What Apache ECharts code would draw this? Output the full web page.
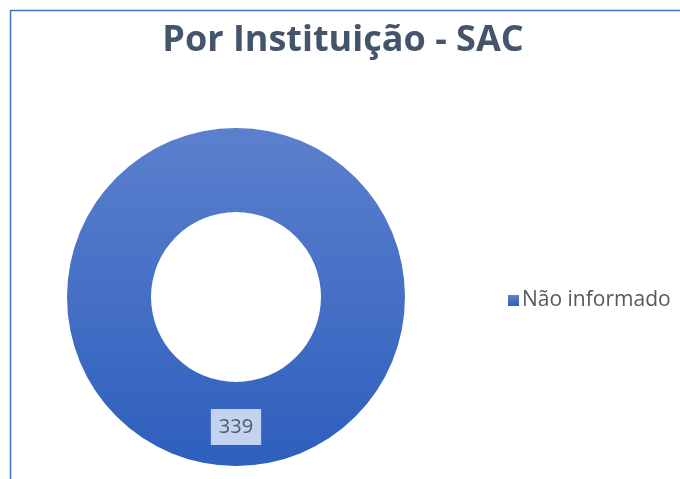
<!DOCTYPE html>
<html>
<head>
<meta charset="utf-8">
<script src="https://cdn.jsdelivr.net/npm/echarts@6/dist/echarts.min.js"></script>
<style>
	html, body { margin: 0; padding: 0; background: #ffffff; }
	#chart { width: 680px; height: 479px; }
</style>
</head>
<body>
<div id="chart"></div>
<script>
// Chart data
const categories = ['Não informado'];
const values = [339];

const chart = echarts.init(document.getElementById('chart'));

const pieData = categories.map((name, i) => ({ name: name, value: values[i] }));

const option = {
	backgroundColor: '#ffffff',
	animation: false,
	title: {
		text: 'Por Instituição - SAC',
		left: 338,
		top: 18,
		textAlign: 'center',
		textStyle: {
			color: '#44546a',
			fontFamily: 'Open Sans',
			fontSize: 36,
			fontWeight: 'bold'
		}
	},
	// chart area frame (top and left edges visible)
	graphic: [
		{ type: 'line', shape: { x1: 10, y1: 10.5, x2: 680, y2: 10.5 }, style: { stroke: '#4472c4', lineWidth: 1.5 } },
		{ type: 'line', shape: { x1: 10.5, y1: 10, x2: 10.5, y2: 479 }, style: { stroke: '#4472c4', lineWidth: 1.5 } }
	],
	legend: {
		orient: 'vertical',
		left: 503,
		top: 285,
		icon: 'rect',
		itemWidth: 11,
		itemHeight: 11,
		itemGap: 6,
		data: categories,
		textStyle: {
			color: '#595959',
			fontFamily: 'Open Sans',
			fontSize: 21,
			padding: [0, 0, 0, -2]
		}
	},
	series: [
		{
			type: 'pie',
			center: [236, 297],
			radius: [85, 169],
			startAngle: 90,
			silent: true,
			itemStyle: {
				color: new echarts.graphic.LinearGradient(0, 0, 0, 1, [
					{ offset: 0, color: '#5b80cd' },
					{ offset: 1, color: '#2e5fbd' }
				])
			},
			label: {
				show: true,
				position: 'inside',
				formatter: '{c}',
				color: '#505a6a',
				fontFamily: 'Open Sans',
				fontSize: 20,
				backgroundColor: '#c3d2ee',
				padding: [8, 8, 8, 8]
			},
			labelLine: { show: false },
			data: pieData
		}
	]
};

chart.setOption(option);
</script>
</body>
</html>
